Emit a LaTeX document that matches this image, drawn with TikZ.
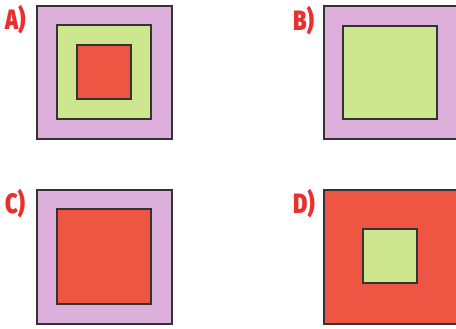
\documentclass[tikz,border=0pt]{standalone}
\usepackage{fontspec}
\usepackage{graphicx}
\newfontfamily\labelfont{Fira Sans}[UprightFont=* Black, BoldFont=* Black]
\definecolor{lilac}{HTML}{DDB0DC}
\definecolor{lime}{HTML}{CDE68F}
\definecolor{tomato}{HTML}{EE5643}
\definecolor{labelred}{HTML}{E8312F}
\definecolor{edge}{HTML}{333333}
\newcommand{\tagtext}[1]{\scalebox{0.78}[1]{\labelfont\fontsize{28}{28}\selectfont #1}}
\begin{document}
\begin{tikzpicture}[x=1pt,y=-1pt,
  outerbox/.style={draw=edge,line width=1.2pt},
  innerbox/.style={draw=edge,line width=2pt},
  tag/.style={text=labelred,inner sep=0pt,anchor=north west}]
\useasboundingbox[fill=white] (0,0) rectangle (456,329);

% A: three nested squares
\filldraw[outerbox,fill=lilac] (37,6) rectangle (172,139);
\filldraw[innerbox,fill=lime] (57,25) rectangle (151,119);
\filldraw[innerbox,fill=tomato] (77,45) rectangle (131,99);
\node[tag] (la) at (5,5) {\tagtext{A)}};

% B: green square in lilac frame
\filldraw[outerbox,fill=lilac] (324,6) rectangle (458,139);
\filldraw[innerbox,fill=lime] (343,26) rectangle (437,119);
\node[tag] (lb) at (293,6) {\tagtext{B)}};

% C: red square in lilac frame
\filldraw[outerbox,fill=lilac] (37,190) rectangle (172,324);
\filldraw[innerbox,fill=tomato] (57,209) rectangle (151,304);
\node[tag] (lc) at (5,189) {\tagtext{C)}};

% D: small green square in red field
\filldraw[outerbox,fill=tomato] (324,190) rectangle (458,324);
\filldraw[innerbox,fill=lime] (363,229) rectangle (417,283);
\node[tag] (ld) at (293,189) {\tagtext{D)}};
\end{tikzpicture}
\end{document}
